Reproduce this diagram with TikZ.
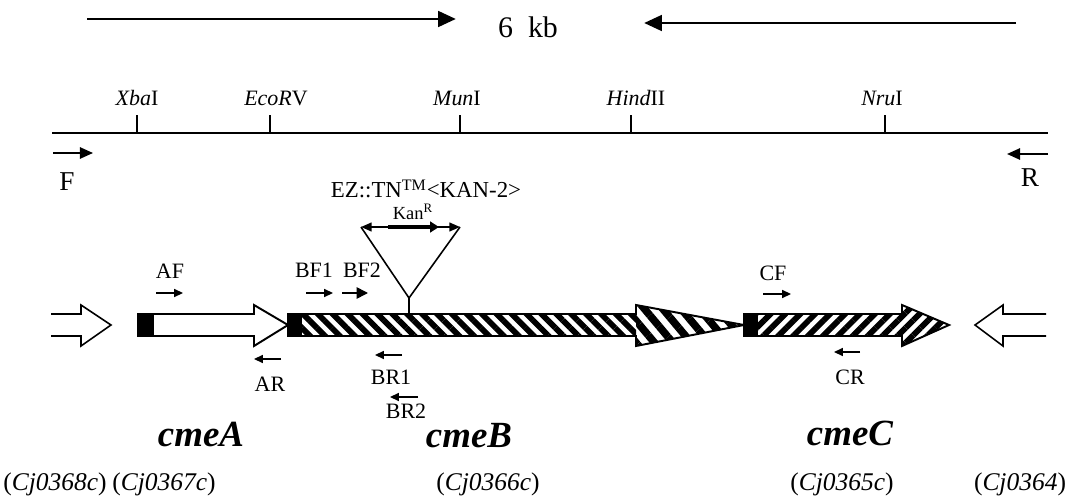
\documentclass[tikz,border=0pt]{standalone}
\usepackage{fontspec}
\setmainfont{Liberation Serif}
\usetikzlibrary{arrows.meta,patterns.meta,calc}

\begin{document}
\begin{tikzpicture}[x=0.02cm,y=-0.02cm,
  gene/.style={draw,line width=1.1pt,line join=miter},
  flank/.style={draw,line width=0.9pt,line join=miter},
  primer/.style={line width=0.9pt,-{Triangle[length=5pt,width=4.5pt]}},
  enzyme/.style={font=\fontsize{12.5}{14}\selectfont,inner sep=0pt},
  primername/.style={font=\fontsize{12.5}{14}\selectfont,inner sep=0pt},
  genename/.style={font=\fontsize{21}{24}\selectfont\bfseries\itshape,inner sep=0pt},
  locus/.style={font=\fontsize{14.5}{16}\selectfont,inner sep=0pt},
  stripesB/.style={pattern={Lines[angle=-45,distance=6pt,line width=3.3pt]}},
  stripesBhead/.style={pattern={Lines[angle=-50,distance=8pt,line width=4.3pt]}},
  stripesC/.style={pattern={Lines[angle=45,distance=6pt,line width=3.3pt]}}]
\useasboundingbox (0,0) rectangle (1091,503);

% Size bar
\node[font=\fontsize{17}{20}\selectfont,inner sep=0pt] (size) at (528,27) {6\hspace{0.5em}kb};
\coordinate (sizeL) at (87,19);
\coordinate (sizeR) at (1016,23);
\draw[line width=1.1pt,-{Triangle[length=10pt,width=9pt]}] (sizeL) -- ($(size.west |- sizeL)+(-42,0)$);
\draw[line width=1.1pt,-{Triangle[length=10pt,width=9pt]}] (sizeR) -- ($(size.east |- sizeR)+(86,0)$);

% Restriction map
\coordinate (mapL) at (52,133);
\coordinate (mapR) at (1048,133);
\draw[line width=1pt] (mapL) -- (mapR);
\coordinate (xba) at (137,133);
\coordinate (eco) at (270,133);
\coordinate (mun) at (460,133);
\coordinate (hind) at (631,133);
\coordinate (nru) at (885,133);
\draw[line width=0.9pt] (xba) -- ++(0,-18);
\draw[line width=0.9pt] (eco) -- ++(0,-18);
\draw[line width=0.9pt] (mun) -- ++(0,-18);
\draw[line width=0.9pt] (hind) -- ++(0,-18);
\draw[line width=0.9pt] (nru) -- ++(0,-18);
\node[enzyme] (xbaname) at (137,98) {\textit{Xba}I};
\node[enzyme] (econame) at (276,98) {\textit{EcoR}V};
\node[enzyme] (munname) at (457,98) {\textit{Mun}I};
\node[enzyme] (hindname) at (636,98) {\textit{Hind}II};
\node[enzyme] (nruname) at (882,98) {\textit{Nru}I};

% Outer primers
\coordinate (fa) at (53,153);
\coordinate (fb) at (93,153);
\coordinate (ra) at (1048,154);
\coordinate (rb) at (1007,154);
\draw[line width=1pt,-{Triangle[length=7.5pt,width=6.5pt]}] (fa) -- (fb);
\draw[line width=1pt,-{Triangle[length=7.5pt,width=6.5pt]}] (ra) -- (rb);
\node[font=\fontsize{15.5}{18}\selectfont,inner sep=0pt] (fname) at (67,182) {F};
\node[font=\fontsize{15.5}{18}\selectfont,inner sep=0pt] (rname) at (1030,178) {R};

% Transposon insertion
\node[font=\fontsize{13}{15}\selectfont,inner sep=0pt] (tn) at (426,189) {EZ::TN\textsuperscript{TM}<KAN-2>};
\node[font=\fontsize{10.5}{12}\selectfont,inner sep=0pt] (kan) at (413,212) {Kan\textsuperscript{R}};
\coordinate (tnL) at (361,227);
\coordinate (tnR) at (460,227);
\coordinate (tnV) at (409,298);
\coordinate (ins) at (409,314);
\draw[line width=0.9pt] (tnL) -- (tnV) -- (tnR);
\draw[line width=0.9pt] (tnV) -- (ins);
\draw[line width=0.9pt,{Triangle[length=6pt,width=5pt]}-{Triangle[length=6pt,width=5pt]}] (tnL) -- (tnR);
\coordinate (kanL) at (388,227);
\coordinate (kanR) at (439,227);
\draw[line width=2.8pt,-{Triangle[length=5pt,width=6pt]}] (kanL) -- (kanR);

% Flanking genes
\draw[flank] (51,314) -- (81,314) -- (81,305) -- (111,325) -- (81,346) -- (81,336) -- (51,336);
\draw[flank] (1046,314) -- (1003,314) -- (1003,305) -- (975,325) -- (1003,346) -- (1003,336) -- (1046,336);

% cmeA
\fill (138,314) rectangle (153,336);
\draw[gene,fill=white] (153,314) -- (254,314) -- (254,305) -- (288,325) -- (254,346) -- (254,336) -- (153,336) -- cycle;
\draw[gene] (138,314) rectangle (153,336);

% cmeB
\fill (288,314) rectangle (302,336);
\path[stripesB] (302,314) rectangle (636,336);
\path[stripesBhead] (636,305) -- (744,325) -- (636,346) -- cycle;
\draw[gene] (288,314) -- (636,314) -- (636,305) -- (744,325) -- (636,346) -- (636,336) -- (288,336) -- cycle;

% cmeC
\fill (744,314) rectangle (758,336);
\path[stripesC] (758,314) -- (902,314) -- (902,305) -- (949,325) -- (902,346) -- (902,336) -- (758,336) -- cycle;
\draw[gene] (744,314) -- (902,314) -- (902,305) -- (949,325) -- (902,346) -- (902,336) -- (744,336) -- cycle;

% Primers
\coordinate (afa) at (156,293);
\coordinate (afb) at (183,293);
\coordinate (bf1a) at (306,293);
\coordinate (bf1b) at (333,293);
\coordinate (bf2a) at (342,293);
\coordinate (bf2b) at (368,293);
\coordinate (cfa) at (763,294);
\coordinate (cfb) at (791,294);
\coordinate (ara) at (281,359);
\coordinate (arb) at (254,359);
\coordinate (br1a) at (402,355);
\coordinate (br1b) at (375,355);
\coordinate (br2a) at (418,397);
\coordinate (br2b) at (390,397);
\coordinate (cra) at (860,352);
\coordinate (crb) at (834,352);
\draw[primer] (afa) -- (afb);
\draw[primer] (bf1a) -- (bf1b);
\draw[line width=0.9pt,-{Triangle[length=6.5pt,width=6.5pt]}] (bf2a) -- (bf2b);
\draw[primer] (cfa) -- (cfb);
\draw[primer] (ara) -- (arb);
\draw[primer] (br1a) -- (br1b);
\draw[primer] (br2a) -- (br2b);
\draw[primer] (cra) -- (crb);
\node[primername] (afname) at (170,271) {AF};
\node[primername] (bf1name) at (314,270) {BF1};
\node[primername] (bf2name) at (362,270) {BF2};
\node[primername] (cfname) at (773,273) {CF};
\node[primername] (arname) at (270,384) {AR};
\node[primername] (br1name) at (391,377) {BR1};
\node[primername] (br2name) at (406,411) {BR2};
\node[primername] (crname) at (850,377) {CR};

% Labels
\node[genename] (cmea) at (201,434) {cmeA};
\node[genename] (cmeb) at (469,436) {cmeB};
\node[genename] (cmec) at (850,433) {cmeC};
\node[locus] (cj68) at (55,484) {(\textit{Cj0368c})};
\node[locus] (cj67) at (164,484) {(\textit{Cj0367c})};
\node[locus] (cj66) at (488,484) {(\textit{Cj0366c})};
\node[locus] (cj65) at (842,484) {(\textit{Cj0365c})};
\node[locus] (cj64) at (1020,484) {(\textit{Cj0364})};
\end{tikzpicture}
\end{document}
